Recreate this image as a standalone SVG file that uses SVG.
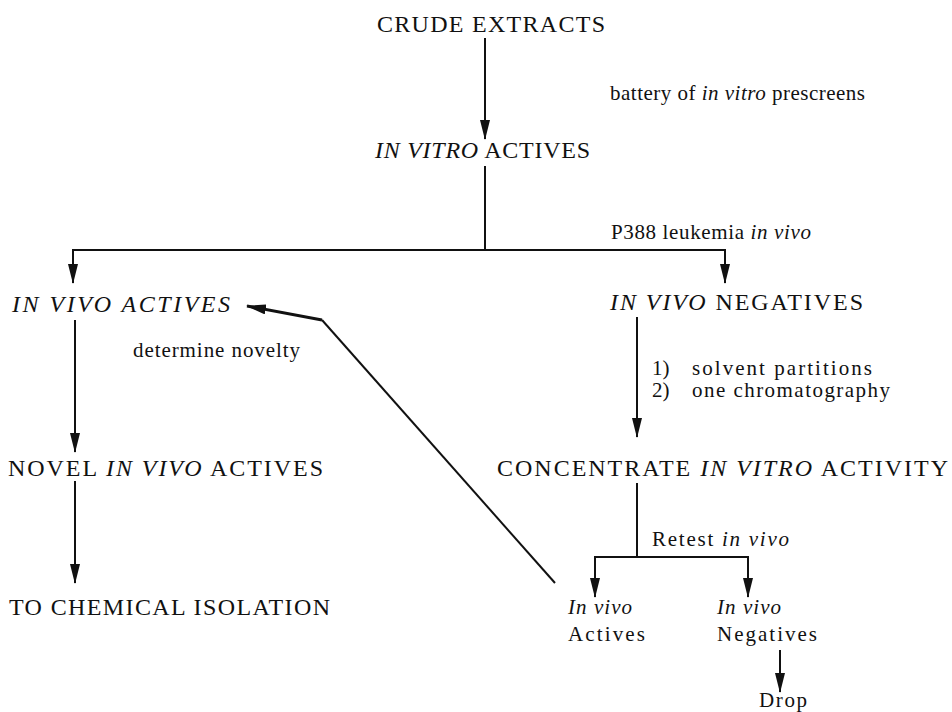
<svg xmlns="http://www.w3.org/2000/svg" width="952" height="712" viewBox="0 0 952 712" font-family="'Liberation Serif', 'DejaVu Serif', 'Times New Roman', serif">
<style>
text{font-family:'Liberation Serif','DejaVu Serif','Times New Roman',serif;fill:#111;}
.big{font-size:24px;}
.sm{font-size:21px;}
.it{font-style:italic;}
.ln{stroke:#111;stroke-width:2;fill:none;}
</style>
<defs>
<marker id="ah" markerUnits="userSpaceOnUse" markerWidth="20" markerHeight="10" refX="19" refY="5" orient="auto">
<path d="M0,0 L20,5 L0,10 z" fill="#111"/>
</marker>
</defs>
<rect width="952" height="712" fill="#fff"/>
<g id="connectors">
<line class="ln" x1="485" y1="38" x2="485" y2="139" marker-end="url(#ah)"/>
<polyline class="ln" points="485,166 485,250"/>
<polyline class="ln" points="73,283 73,250 725,250 725,283" marker-end="url(#ah)"/>
<line class="ln" x1="73" y1="250" x2="73" y2="283" marker-end="url(#ah)"/>
<line class="ln" x1="75" y1="320" x2="75" y2="452" marker-end="url(#ah)"/>
<line class="ln" x1="75" y1="481" x2="75" y2="583" marker-end="url(#ah)"/>
<line class="ln" x1="637" y1="317" x2="637" y2="437" marker-end="url(#ah)"/>
<polyline class="ln" points="637,483 637,557"/>
<polyline class="ln" points="595,597 595,557 748,557 748,597" marker-end="url(#ah)"/>
<line class="ln" x1="595" y1="557" x2="595" y2="597" marker-end="url(#ah)"/>
<line class="ln" x1="780" y1="650" x2="780" y2="692" marker-end="url(#ah)"/>
<polyline class="ln" points="555,583 322,320"/>
<line x1="322" y1="320" x2="247" y2="306" stroke="#111" stroke-width="3" marker-end="url(#ah)"/>
</g>
<g id="crude"><text class="big" x="377" y="32" textLength="228" lengthAdjust="spacing">CRUDE EXTRACTS</text></g>
<g id="lbl-battery"><text class="sm" x="610" y="100" textLength="255" lengthAdjust="spacing">battery of <tspan class="it">in vitro</tspan> prescreens</text></g>
<g id="invitro"><text class="big" x="375" y="158" textLength="215" lengthAdjust="spacing"><tspan class="it">IN VITRO</tspan> ACTIVES</text></g>
<g id="lbl-p388"><text class="sm" x="611" y="239" textLength="200" lengthAdjust="spacing">P388 leukemia <tspan class="it">in vivo</tspan></text></g>
<g id="invivo-act"><text class="big it" x="12" y="312" textLength="218" lengthAdjust="spacing">IN VIVO ACTIVES</text></g>
<g id="invivo-neg"><text class="big" x="610" y="310" textLength="253" lengthAdjust="spacing"><tspan class="it">IN VIVO</tspan> NEGATIVES</text></g>
<g id="lbl-novelty"><text class="sm" x="133" y="357" textLength="167" lengthAdjust="spacing">determine novelty</text></g>
<g id="lbl-steps">
<text class="sm" x="652" y="375">1)</text><text class="sm" x="692" y="375" textLength="180" lengthAdjust="spacing">solvent partitions</text>
<text class="sm" x="652" y="397">2)</text><text class="sm" x="692" y="397" textLength="198" lengthAdjust="spacing">one chromatography</text>
</g>
<g id="novel"><text class="big" x="8" y="476" textLength="315" lengthAdjust="spacing">NOVEL <tspan class="it">IN VIVO</tspan> ACTIVES</text></g>
<g id="concentrate"><text class="big" x="497" y="476" textLength="451" lengthAdjust="spacing">CONCENTRATE <tspan class="it">IN VITRO</tspan> ACTIVITY</text></g>
<g id="isolation"><text class="big" x="9" y="615" textLength="321" lengthAdjust="spacing">TO CHEMICAL ISOLATION</text></g>
<g id="lbl-retest"><text class="sm" x="652" y="546" textLength="137" lengthAdjust="spacing">Retest <tspan class="it">in vivo</tspan></text></g>
<g id="actives2"><text class="sm it" x="568" y="614" textLength="64" lengthAdjust="spacing">In vivo</text><text class="sm" x="568" y="641" textLength="77" lengthAdjust="spacing">Actives</text></g>
<g id="negatives2"><text class="sm it" x="717" y="614" textLength="64" lengthAdjust="spacing">In vivo</text><text class="sm" x="717" y="641" textLength="100" lengthAdjust="spacing">Negatives</text></g>
<g id="drop"><text class="sm" x="759" y="707" textLength="48" lengthAdjust="spacing">Drop</text></g>
</svg>
